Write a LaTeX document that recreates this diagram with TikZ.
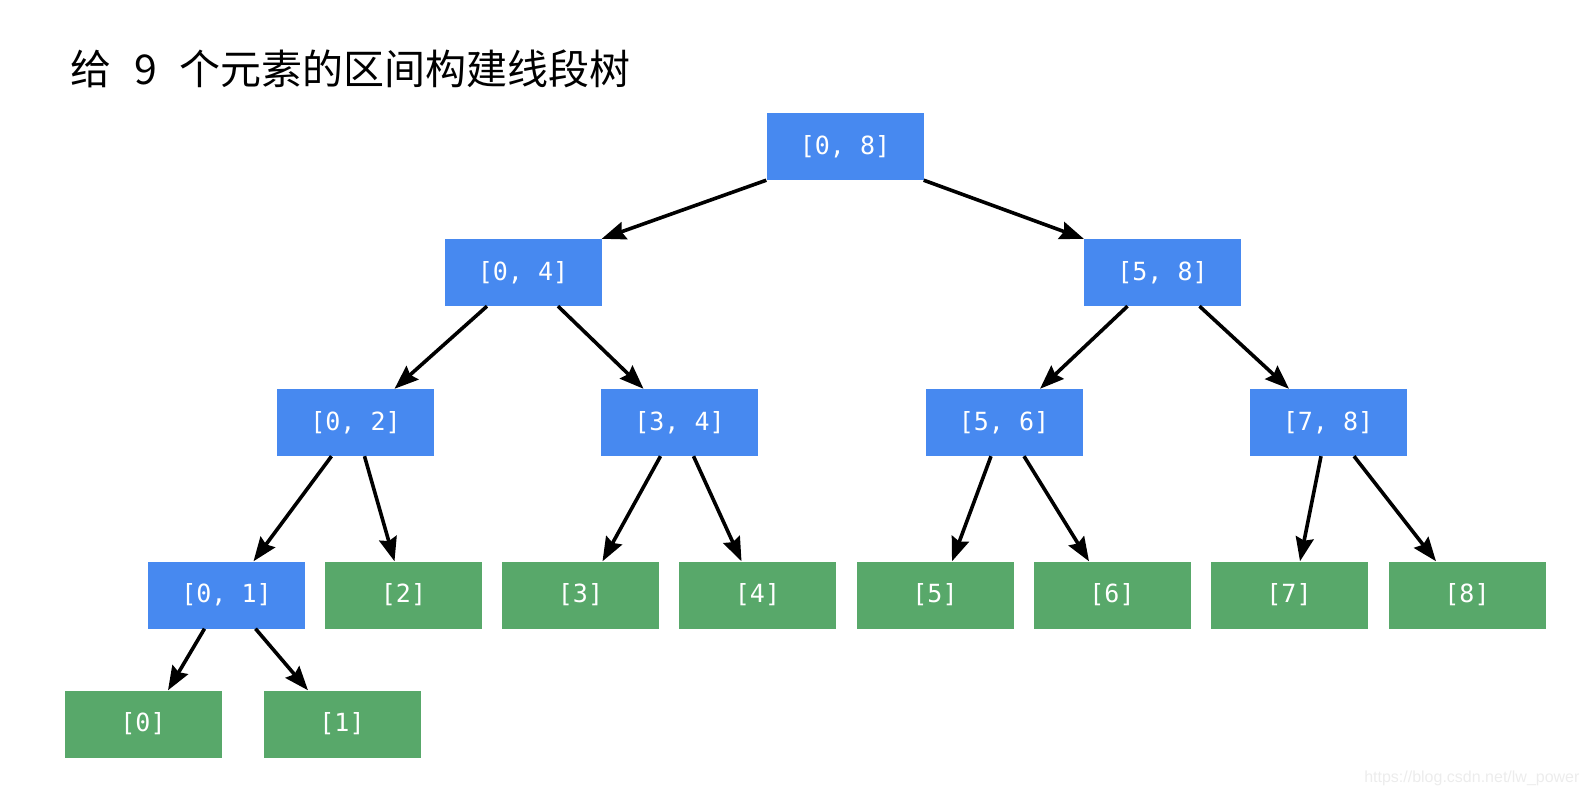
\documentclass[tikz,border=0pt]{standalone}
\usepackage{fontspec}
\usepackage{tikz}
\usetikzlibrary{arrows.meta}
\setmonofont{DejaVu Sans Mono}
\newfontfamily\cjk{Noto Sans CJK SC}
\newfontfamily\wmfont{Liberation Sans}
\definecolor{segblue}{RGB}{71,137,240}
\definecolor{leafgreen}{RGB}{88,168,106}
\definecolor{wmgray}{RGB}{236,236,236}
\tikzstyle{seg} = [fill=segblue, text=white, minimum width=157pt, minimum height=67pt, inner sep=0pt, font=\ttfamily\fontsize{25}{30}\selectfont]
\tikzstyle{leaf} = [seg, fill=leafgreen]
\tikzstyle{link} = [line width=3.6pt, -{Stealth[length=24pt,width=18pt,inset=3pt]}]

\begin{document}
\begin{tikzpicture}[x=1pt, y=-1pt]
    \useasboundingbox (0,0) rectangle (1594,794);
    \node[anchor=base west, inner sep=0pt, font=\cjk\fontsize{41}{48}\selectfont] (title) at (70,85) {\spaceskip=23pt\relax 给 9 个元素的区间构建线段树};

    % internal nodes
    \node[seg] (n08) at (845,146.5) {[0, 8]};
    \node[seg] (n04) at (523,272.5) {[0, 4]};
    \node[seg] (n58) at (1162.5,272.5) {[5, 8]};
    \node[seg] (n02) at (355.5,422.5) {[0, 2]};
    \node[seg] (n34) at (679.5,422.5) {[3, 4]};
    \node[seg] (n56) at (1004,422.5) {[5, 6]};
    \node[seg] (n78) at (1328,422.5) {[7, 8]};
    \node[seg] (n01) at (226.5,595) {[0, 1]};

    % leaves
    \node[leaf] (l2) at (403.5,595) {[2]};
    \node[leaf] (l3) at (580.5,595) {[3]};
    \node[leaf] (l4) at (757.5,595) {[4]};
    \node[leaf] (l5) at (935,595) {[5]};
    \node[leaf] (l6) at (1112,595) {[6]};
    \node[leaf] (l7) at (1289,595) {[7]};
    \node[leaf] (l8) at (1467,595) {[8]};
    \node[leaf] (l0) at (143,724) {[0]};
    \node[leaf] (l1) at (342,724) {[1]};

    % edges
    \draw[link] (n08.south west) -- (n04.north east);
    \draw[link] (n08.south east) -- (n58.north west);
    \draw[link] ([xshift=-36pt]n04.south) -- ([xshift=39pt]n02.north);
    \draw[link] ([xshift=35pt]n04.south) -- ([xshift=-36pt]n34.north);
    \draw[link] ([xshift=-35pt]n58.south) -- ([xshift=36pt]n56.north);
    \draw[link] ([xshift=37pt]n58.south) -- ([xshift=-39pt]n78.north);
    \draw[link] ([xshift=-24pt]n02.south) -- ([xshift=27pt]n01.north);
    \draw[link] ([xshift=9pt]n02.south) -- ([xshift=-9pt]l2.north);
    \draw[link] ([xshift=-19pt]n34.south) -- ([xshift=22pt]l3.north);
    \draw[link] ([xshift=14pt]n34.south) -- ([xshift=-16pt]l4.north);
    \draw[link] ([xshift=-13pt]n56.south) -- ([xshift=17pt]l5.north);
    \draw[link] ([xshift=20pt]n56.south) -- ([xshift=-23pt]l6.north);
    \draw[link] ([xshift=-7pt]n78.south) -- ([xshift=11pt]l7.north);
    \draw[link] ([xshift=26pt]n78.south) -- ([xshift=-31pt]l8.north);
    \draw[link] ([xshift=-22pt]n01.south) -- ([xshift=25pt]l0.north);
    \draw[link] ([xshift=29pt]n01.south) -- ([xshift=-34pt]l1.north);

    \node[anchor=base east, text=wmgray, font=\wmfont\fontsize{16}{19}\selectfont] (mark) at (1583,782) {https://blog.csdn.net/lw\_power};
\end{tikzpicture}
\end{document}
